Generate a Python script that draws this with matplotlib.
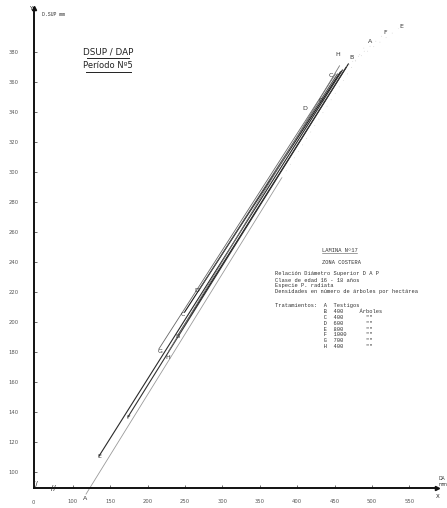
import matplotlib
matplotlib.use("Agg")
import matplotlib.pyplot as plt

W, H = 447, 508

# ---- data (DAP mm on x, D.SUP mm on y) ----
treatments = ['A', 'B', 'C', 'D', 'E', 'F', 'G', 'H']
x_start = [117.3, 241.1, 249.1, 269.1, 134.6, 173.2, 214.5, 227.8]
y_start = [84.7, 191.3, 206.0, 221.3, 110.0, 136.0, 181.3, 180.0]
x_end = [379.6, 468.8, 458.2, 454.2, 460.9, 466.2, 451.5, 456.9]
y_end = [296.0, 372.0, 366.7, 365.3, 368.0, 370.0, 365.3, 370.7]
line_colors = ['#9a9a9a', '#1a1a1a', '#1a1a1a', '#555555', '#2a2a2a', '#333333', '#666666', '#777777']

# dotted continuations toward top labels (A, F, E)
dot_names = ['A', 'F', 'E']
dot_x0 = [379.6, 466.2, 460.9]
dot_y0 = [296.0, 370.0, 368.0]
dot_x1 = [491.3, 514.1, 535.4]
dot_y1 = [384.0, 390.7, 395.3]

# letter labels at both ends of each curve
lab_bot_x = [116.0, 239.8, 246.5, 266.4, 136.0, 174.6, 217.2, 226.5]
lab_bot_y = [82.0, 190.0, 204.7, 220.7, 110.0, 136.0, 180.0, 176.0]
lab_top_x = [498.1, 472.8, 444.9, 410.3, 539.4, 518.1, 431.6, 454.2]
lab_top_y = [386.7, 376.0, 364.0, 342.0, 396.7, 392.7, 347.3, 378.0]

x_ticks = [100, 150, 200, 250, 300, 350, 400, 450, 500, 550]
y_ticks = [100, 120, 140, 160, 180, 200, 220, 240, 260, 280, 300, 320, 340, 360, 380]

legend_lines = [
    "Relación Diámetro Superior D A P",
    "Clase de edad 16 - 18 años",
    "Especie P. radiata",
    "Densidades en número de árboles por hectárea",
]
trat_letters = ['A', 'B', 'C', 'D', 'E', 'F', 'G', 'H']
trat_density = ['Testigos', '400', '400', '600', '800', '1000', '700', '400']

# ---- figure ----
fig = plt.figure(figsize=(W / 100, H / 100), dpi=100)
ax = fig.add_axes([34 / W, 20 / H, 403 / W, 480 / H])
ax.set_xlim(48, 587)
ax.set_ylim(89, 409)
for s in ['top', 'right']:
    ax.spines[s].set_visible(False)
for s in ['left', 'bottom']:
    ax.spines[s].set_linewidth(1.4)
    ax.spines[s].set_color('#111111')

ax.set_xticks(x_ticks)
ax.set_xticklabels([str(v) for v in x_ticks])
ax.set_yticks(y_ticks)
ax.set_yticklabels([str(v) for v in y_ticks])
ax.tick_params(axis='x', direction='in', length=2.5, width=0.6, pad=8,
               labelsize=3.8, labelcolor='#555555', colors='#555555')
ax.tick_params(axis='y', direction='in', length=2.5, width=0.6, pad=11,
               labelsize=3.8, labelcolor='#555555', colors='#555555')

# arrows on axes
ax.plot([0], [1], marker='^', ms=3, color='#111111', transform=ax.transAxes, clip_on=False)
ax.plot([1], [0], marker='>', ms=3, color='#111111', transform=ax.transAxes, clip_on=False)

# curves
for i, t in enumerate(treatments):
    ax.plot([x_start[i], x_end[i]], [y_start[i], y_end[i]], color=line_colors[i],
            lw=0.8 if t not in ('A', 'G', 'H') else 0.6, clip_on=False, solid_capstyle='butt')
for i in range(len(dot_names)):
    ax.plot([dot_x0[i], dot_x1[i]], [dot_y0[i], dot_y1[i]], color='#c8c8c8', lw=0.5,
            ls=(0, (1, 10)), clip_on=False)

for i, t in enumerate(treatments):
    ax.text(lab_bot_x[i], lab_bot_y[i], t, fontsize=4.5, color='#333333',
            ha='center', va='center', clip_on=False)
    ax.text(lab_top_x[i], lab_top_y[i], t, fontsize=4.5, color='#333333',
            ha='center', va='center', clip_on=False)

def fx(px):
    return px / W

def fy(py):
    return 1 - py / H

# origin label and axis breaks
fig.text(fx(33), fy(503), '0', fontsize=3.8, color='#555555', ha='center', va='center')
fig.text(fx(53), fy(488), '//', fontsize=5, color='#222222', ha='center', va='center')
fig.text(fx(35), fy(484), '//', fontsize=5, color='#222222', ha='center', va='center')

# axis titles
fig.text(fx(31), fy(8), 'Y', fontsize=4, color='#222222', ha='center', va='center')
fig.text(fx(42), fy(15), 'D.SUP mm', fontsize=3.5, color='#333333', ha='left', va='center',
         family='Liberation Mono')
fig.text(fx(438), fy(496), 'X', fontsize=4, color='#222222', ha='center', va='center')
fig.text(fx(442), fy(478), 'DA', fontsize=3.3, color='#333333', ha='center', va='center')
fig.text(fx(443), fy(484), 'mm', fontsize=3.3, color='#333333', ha='center', va='center')

# title block
fig.text(fx(108), fy(52), 'DSUP / DAP', fontsize=6.3, color='#222222', ha='center', va='center')
fig.text(fx(108), fy(66), 'Período Nº5', fontsize=6.0, color='#222222', ha='center', va='center')
fig.add_artist(plt.Line2D([fx(87), fx(129)], [fy(58), fy(58)], color='#222222', lw=0.7))
fig.add_artist(plt.Line2D([fx(86), fx(131)], [fy(72), fy(72)], color='#222222', lw=0.7))

# typed legend block
mono = dict(family='Liberation Mono', fontsize=3.9, color='#333333', va='center', ha='left')
fig.text(fx(322), fy(250), 'LAMINA Nº17', **mono)
fig.add_artist(plt.Line2D([fx(322), fx(357)], [fy(253), fy(253)], color='#555555', lw=0.4))
fig.text(fx(322), fy(262), 'ZONA COSTERA', **mono)
for k, s in enumerate(legend_lines):
    fig.text(fx(275), fy(274 + 6 * k), s, **mono)

for k, (l, d) in enumerate(zip(trat_letters, trat_density)):
    prefix = 'Tratamientos:  ' if k == 0 else ' ' * 15
    if k == 0:
        s = prefix + l + '  ' + d
    elif k == 1:
        s = prefix + l + '  ' + d.ljust(4) + '    Árboles'
    else:
        s = prefix + l + '  ' + d.ljust(4) + '      ""'
    fig.text(fx(275), fy(305.5 + 5.9 * k), s, **mono)

fig.savefig('out.png', dpi=100, facecolor='white')
